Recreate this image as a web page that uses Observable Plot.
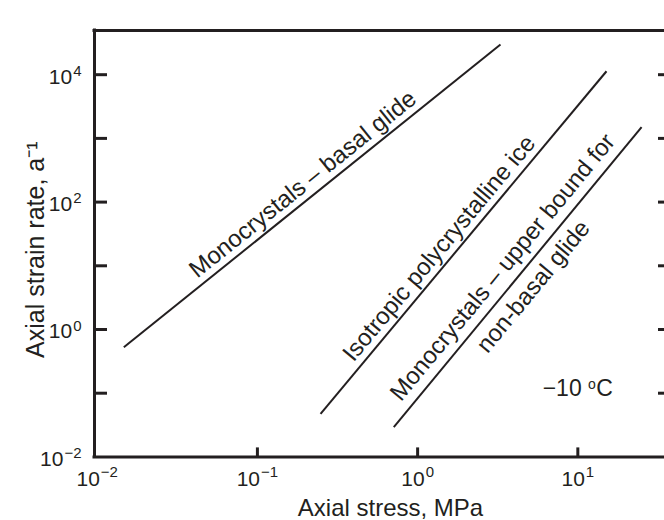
<!DOCTYPE html>
<html><head><meta charset="utf-8">
<script src="https://cdn.jsdelivr.net/npm/d3@7"></script>
<script src="https://cdn.jsdelivr.net/npm/@observablehq/plot@0.6"></script>
<style>body{margin:0;background:#fff}</style>
</head><body><div id="chart"></div>
<script>
// ---- data ----
const seriesNames = ["Monocrystals – basal glide", "Isotropic polycrystalline ice", "Monocrystals – upper bound for non-basal glide"];
const stressStart = [0.01466, 0.2478, 0.710];   // MPa
const stressEnd   = [3.29, 15.1, 25.0];          // MPa
const rateStart   = [0.527, 0.0475, 0.0293];     // a^-1
const rateEnd     = [29700, 11330, 1497];        // a^-1

const labelTexts = ["Monocrystals – basal glide", "Isotropic polycrystalline ice", "Monocrystals – upper bound for", "non-basal glide"];
const labelLine  = [0, 1, 2, 2];
const labelAlong = [0.50, 0.455, 0.495, 0.507];

const tempParts = ["−10", "o", "C"];   // −10 °C with raised o
const tempStress = 10;
const tempRate = 0.092;

const tickBase = "10";
const xTickValues = [0.01, 0.1, 1, 10];
const xTickExponents = ["−2", "−1", "0", "1"];
const yTickValues = [0.01, 1, 100, 10000];
const yTickExponents = ["−2", "0", "2", "4"];
const yAllTickValues = [0.1, 1, 10, 100, 1000, 10000];

const xDomain = [0.00962, 34.75];
const yDomain = [0.01, 49400];

const xTitle = "Axial stress, MPa";
const yTitle = "Axial strain rate, a⁻¹";

// ---- chart ----
const ink = "#231f20";
const W = 664, H = 520, mL = 94, mR = 0, mT = 30, mB = 63.6;
const frameW = W - mL - mR, frameH = H - mT - mB;
const lines = seriesNames.map((name, i) => ({name, x1: stressStart[i], y1: rateStart[i], x2: stressEnd[i], y2: rateEnd[i]}));
const labelOffset = [15, 15, 18, -18];
const baseSize = 21, supSize = 15;
// Arial/Liberation Sans advance widths (em)
const emW = c => c === "−" ? 0.584 : c === " " ? 0.278 : c === "C" ? 0.722 : 0.556;
const strW = (s, fs) => [...s].reduce((a, c) => a + emW(c), 0) * fs;

function tickLabelMarks() {
  const marks = [];
  const bw = strW(tickBase, baseSize);
  xTickValues.forEach((v, i) => {
    const sw = strW(xTickExponents[i], supSize);
    const start = -(bw + 1 + sw) / 2;
    marks.push(Plot.text([v], {x: d => d, text: () => tickBase, frameAnchor: "bottom", textAnchor: "start", lineAnchor: "bottom", dx: start, dy: 28.6, fontSize: baseSize, fill: ink}));
    marks.push(Plot.text([v], {x: d => d, text: () => xTickExponents[i], frameAnchor: "bottom", textAnchor: "start", lineAnchor: "bottom", dx: start + bw + 1, dy: 20.5, fontSize: supSize, fill: ink}));
  });
  yTickValues.forEach((v, i) => {
    const sw = strW(yTickExponents[i], supSize);
    marks.push(Plot.text([v], {y: d => d, text: () => yTickExponents[i], frameAnchor: "left", textAnchor: "end", lineAnchor: "bottom", dx: -13, dy: 1.3, fontSize: supSize, fill: ink}));
    marks.push(Plot.text([v], {y: d => d, text: () => tickBase, frameAnchor: "left", textAnchor: "end", lineAnchor: "bottom", dx: -13 - sw - 1, dy: 9, fontSize: baseSize, fill: ink}));
  });
  return marks;
}

function tempMarks() {
  const fs = 23, fo = 14;
  const w0 = strW(tempParts[0] + " ", fs), w1 = strW(tempParts[1], fo) + 0.5, w2 = strW(tempParts[2], fs);
  const start = -(w0 + w1 + w2) / 2;
  const common = {x: () => tempStress, y: () => tempRate, textAnchor: "start", lineAnchor: "bottom", fill: ink};
  return [
    Plot.text([tempParts[0]], {...common, text: d => d, dx: start, fontSize: fs}),
    Plot.text([tempParts[1]], {...common, text: d => d, dx: start + w0, dy: -7, fontSize: fo}),
    Plot.text([tempParts[2]], {...common, text: d => d, dx: start + w0 + w1, fontSize: fs})
  ];
}

function build(angles) {
  const lg = Math.log10;
  const labelMarks = labelTexts.map((t, i) => {
    const L = lines[labelLine[i]];
    const f = labelAlong[i];
    const x = Math.pow(10, lg(L.x1) + f * (lg(L.x2) - lg(L.x1)));
    const y = Math.pow(10, lg(L.y1) + f * (lg(L.y2) - lg(L.y1)));
    const a = angles[labelLine[i]] * Math.PI / 180;
    const o = labelOffset[i];
    const ux = Math.sin(a), uy = -Math.cos(a);
    return Plot.text([t], {x: () => x, y: () => y, text: d => d, rotate: angles[labelLine[i]],
      dx: o * ux, dy: o * uy, fontSize: 24, fill: ink, textAnchor: "middle", lineAnchor: "middle"});
  });
  return Plot.plot({
    width: W, height: H,
    marginLeft: mL, marginRight: mR, marginTop: mT, marginBottom: mB,
    style: {fontFamily: "'Liberation Sans', Arial, Helvetica, sans-serif", color: ink, background: "#fff", overflow: "visible"},
    x: {type: "log", domain: xDomain, axis: null},
    y: {type: "log", domain: yDomain, axis: null},
    marks: [
      // frame: left, bottom, top
      Plot.ruleX([xDomain[0]], {stroke: ink, strokeWidth: 3, strokeLinecap: "square"}),
      Plot.ruleY([yDomain[0]], {stroke: ink, strokeWidth: 3, strokeLinecap: "square"}),
      Plot.ruleY([yDomain[1]], {stroke: ink, strokeWidth: 3, strokeLinecap: "square"}),
      // inward ticks
      Plot.tickY(yAllTickValues, {y: d => d, stroke: ink, strokeWidth: 3, insetRight: frameW - 13}),
      Plot.tickY(yAllTickValues, {y: d => d, stroke: ink, strokeWidth: 3, insetLeft: frameW - 6}),
      Plot.tickX(xTickValues.slice(1), {x: d => d, stroke: ink, strokeWidth: 3, insetTop: frameH - 9}),
      // tick labels (10 with superscript exponent)
      ...tickLabelMarks(),
      // axis titles
      Plot.text([xTitle], {frameAnchor: "bottom", textAnchor: "middle", lineAnchor: "bottom", dx: 11, dy: 59.4, fontSize: 24, fill: ink}),
      Plot.text([yTitle], {frameAnchor: "left", textAnchor: "middle", dx: -59, dy: 6, rotate: -90, fontSize: 25, fill: ink}),
      // data lines
      Plot.link(lines, {x1: "x1", y1: "y1", x2: "x2", y2: "y2", stroke: ink, strokeWidth: 2}),
      ...labelMarks,
      ...tempMarks()
    ]
  });
}

const probe = build([0, 0, 0]);
const sx = probe.scale("x"), sy = probe.scale("y");
const angles = lines.map(L => Math.atan2(sy.apply(L.y2) - sy.apply(L.y1), sx.apply(L.x2) - sx.apply(L.x1)) * 180 / Math.PI);
document.getElementById("chart").append(build(angles));
</script>
</body></html>
